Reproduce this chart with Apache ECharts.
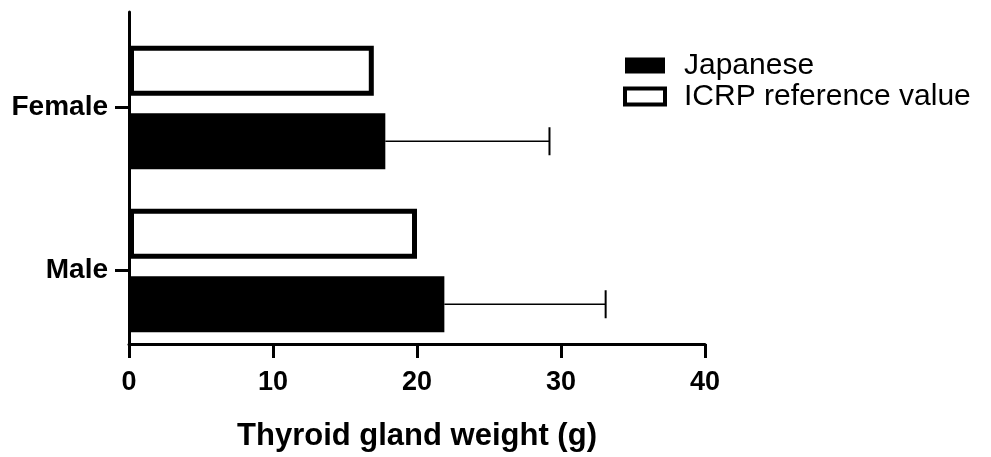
<!DOCTYPE html>
<html>
<head>
<meta charset="utf-8">
<script src="https://cdn.jsdelivr.net/npm/echarts@6/dist/echarts.min.js"></script>
<style>
  html, body { margin: 0; padding: 0; background: #fff; }
  #chart { width: 991px; height: 457px; }
</style>
</head>
<body>
<div id="chart"></div>
<script>
// Thyroid gland weight: Japanese measurements vs ICRP reference values
const categories = ['Male', 'Female'];
const japaneseMean = [21.9, 17.8];
const japaneseSD = [11.2, 11.4];
const icrpValue = [20, 17];
const xTicks = [0, 10, 20, 30, 40];

const FONT = '"Liberation Sans", Arial, sans-serif';
const ICRP_WIDTH = 50;
const JP_WIDTH = 56;
const GAP_PCT = 0.35;

// centre of the Japanese bar relative to its category centre, in pixels
const groupWidth = ICRP_WIDTH * (1 + GAP_PCT) + JP_WIDTH;
const jpOffset = -groupWidth / 2 + ICRP_WIDTH * (1 + GAP_PCT) + JP_WIDTH / 2;

const X_MIN = xTicks[0];
const X_MAX = xTicks[xTicks.length - 1];
const X_STEP = xTicks[1] - xTicks[0];

const chart = echarts.init(document.getElementById('chart'), null, { renderer: 'canvas' });

chart.setOption({
  animation: false,
  backgroundColor: '#ffffff',
  grid: [
    // plotting grid: holds the bars and category ticks/labels
    { left: 129, right: 286, top: 26, height: 326, containLabel: false },
    // frame grid: draws the visible axis lines and the value axis
    { left: 129, right: 286, top: 12, bottom: 111, containLabel: false }
  ],
  legend: {
    data: [
      { name: 'Japanese', itemStyle: { color: '#000', borderColor: '#000', borderWidth: 0 } },
      { name: 'ICRP reference value', itemStyle: { color: '#fff', borderColor: '#000', borderWidth: 4 } }
    ],
    orient: 'vertical',
    left: 618,
    top: 45,
    icon: 'rect',
    itemWidth: 40,
    itemHeight: 16,
    itemGap: 0,
    textStyle: { fontFamily: FONT, fontSize: 30, color: '#000', padding: [0, 0, 0, 14], lineHeight: 31 }
  },
  xAxis: [
    {
      gridIndex: 0,
      type: 'value',
      min: X_MIN, max: X_MAX, interval: X_STEP,
      show: false
    },
    {
      gridIndex: 1,
      type: 'value',
      min: X_MIN, max: X_MAX, interval: X_STEP,
      name: 'Thyroid gland weight (g)',
      nameLocation: 'middle',
      nameGap: 77,
      nameTextStyle: { fontFamily: FONT, fontSize: 31, fontWeight: 'bold', color: '#000' },
      axisLine: { show: true, lineStyle: { color: '#000', width: 3 } },
      axisTick: { show: true, length: 14, lineStyle: { color: '#000', width: 3 } },
      axisLabel: { fontFamily: FONT, fontSize: 27, fontWeight: 'bold', color: '#000', margin: 25 },
      splitLine: { show: false }
    }
  ],
  yAxis: [
    {
      gridIndex: 0,
      type: 'category',
      data: categories,
      axisLine: { show: false },
      axisTick: { show: true, length: 14, alignWithLabel: true, lineStyle: { color: '#000', width: 3 } },
      axisLabel: { fontFamily: FONT, fontSize: 28, fontWeight: 'bold', color: '#000', margin: 21 },
      splitLine: { show: false }
    },
    {
      gridIndex: 1,
      type: 'value',
      min: 0, max: 1,
      axisLine: { show: true, lineStyle: { color: '#000', width: 3 } },
      axisTick: { show: false },
      axisLabel: { show: false },
      splitLine: { show: false }
    }
  ],
  series: [
    {
      name: 'ICRP reference value',
      type: 'bar',
      xAxisIndex: 0, yAxisIndex: 0,
      data: icrpValue,
      barWidth: ICRP_WIDTH,
      barGap: (GAP_PCT * 100) + '%',
      itemStyle: { color: '#fff', borderColor: '#000', borderWidth: 5 },
      z: 2
    },
    {
      name: 'Japanese',
      type: 'bar',
      xAxisIndex: 0, yAxisIndex: 0,
      data: japaneseMean,
      barWidth: JP_WIDTH,
      barGap: (GAP_PCT * 100) + '%',
      itemStyle: { color: '#000', borderWidth: 0 },
      z: 2
    },
    {
      name: 'SD',
      type: 'custom',
      xAxisIndex: 0, yAxisIndex: 0,
      data: japaneseMean.map((m, i) => [i, m, m + japaneseSD[i]]),
      encode: { x: [1, 2], y: 0 },
      z: 1,
      renderItem: function (params, api) {
        const cat = api.value(0);
        const start = api.coord([api.value(1), cat]);
        const end = api.coord([api.value(2), cat]);
        const y = start[1] + jpOffset;
        const cap = 14;
        return {
          type: 'group',
          children: [
            { type: 'line', shape: { x1: start[0], y1: y, x2: end[0], y2: y },
              style: { stroke: '#000', lineWidth: 1.5 } },
            { type: 'line', shape: { x1: end[0], y1: y - cap, x2: end[0], y2: y + cap },
              style: { stroke: '#000', lineWidth: 2 } }
          ]
        };
      }
    }
  ]
});
</script>
</body>
</html>
